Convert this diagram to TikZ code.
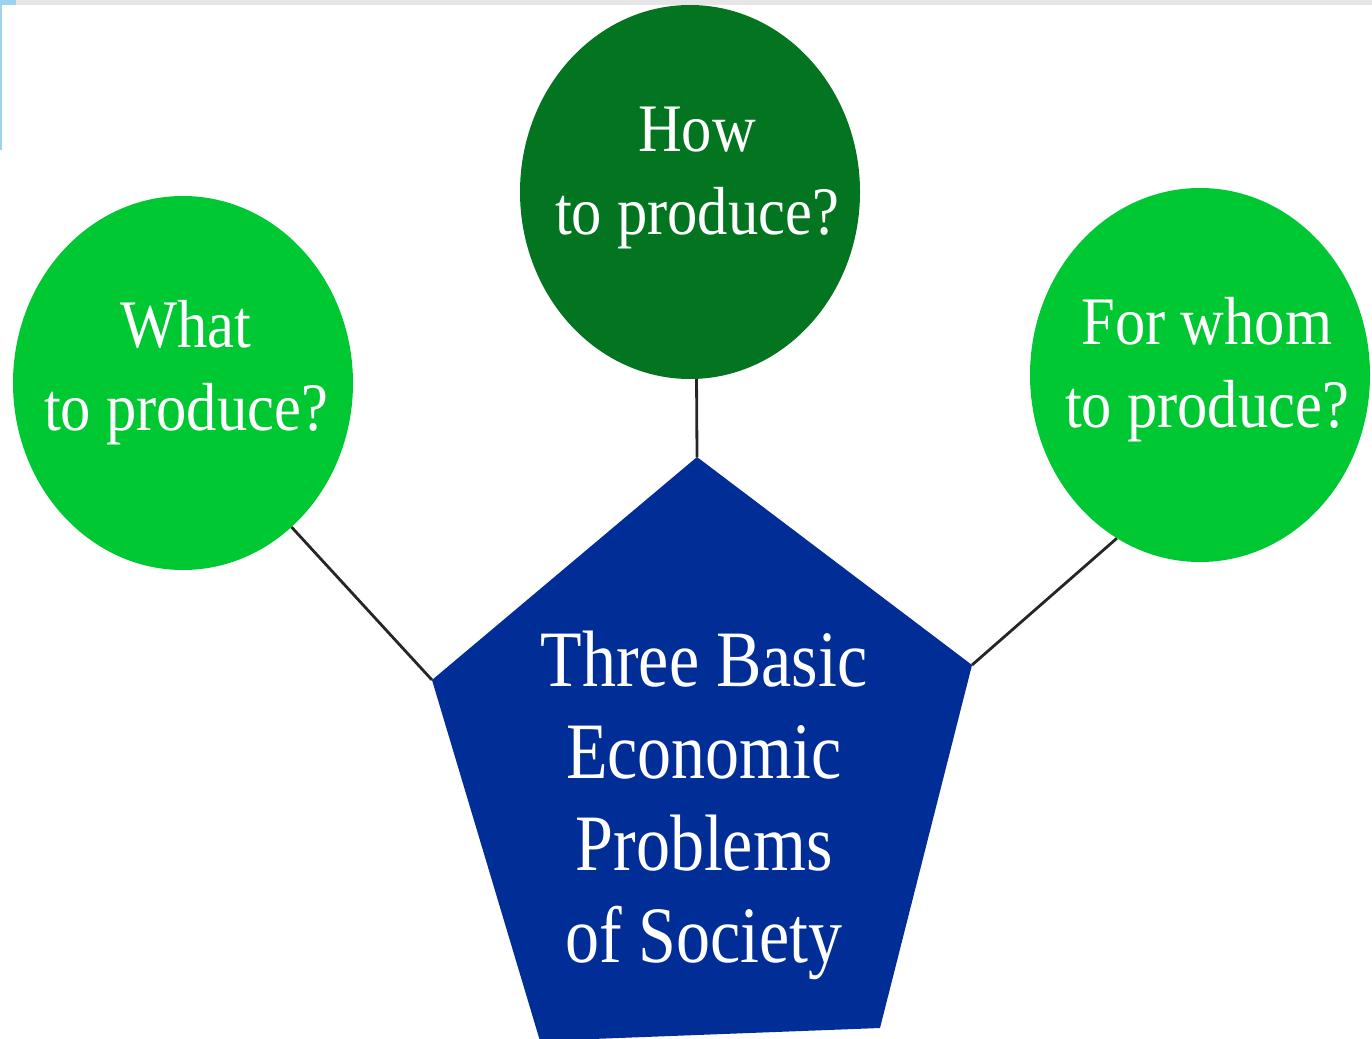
\documentclass[tikz,border=0pt]{standalone}
\usepackage{fontspec}
\setmainfont{Liberation Serif}
\newfontfamily\circfont[FakeStretch=0.89]{Liberation Serif}
\newfontfamily\pentfont[FakeStretch=0.85]{Liberation Serif}
\usetikzlibrary{shapes.geometric}
\definecolor{brightgreen}{RGB}{0,200,50}
\definecolor{darkgreen}{RGB}{3,117,32}
\definecolor{pentblue}{RGB}{0,45,150}
\definecolor{topgray}{RGB}{230,230,232}
\definecolor{edgeblue}{RGB}{156,211,239}
\tikzset{
  bubble/.style={ellipse, minimum width=340pt, minimum height=374pt, inner sep=0pt, draw=none},
  bubbletext/.style={text=white, align=center, font=\circfont\fontsize{68}{83}\selectfont, inner sep=0pt},
  penttext/.style={text=white, align=center, font=\pentfont\fontsize{80}{92}\selectfont, inner sep=0pt},
  link/.style={draw=black!85, line width=2.8pt}
}
\begin{document}
\begin{tikzpicture}[x=1pt,y=-1pt]
\useasboundingbox (0,0) rectangle (1372,1038);
\fill[white] (0,0) rectangle (1372,1038);
\fill[topgray] (0,0) rectangle (1372,5);
\fill[edgeblue] (0,0) rectangle (2,150);
\fill[edgeblue] (0,0) rectangle (16,5);

% pentagon
\coordinate (ptop) at (697,457);
\coordinate (pright) at (972,665);
\coordinate (pbr) at (880,1028);
\coordinate (pbl) at (540,1041);
\coordinate (pleft) at (432,680);
\begin{scope}
\clip (0,0) rectangle (1372,1038);
\fill[pentblue] (ptop) -- (pright) -- (pbr) -- (pbl) -- (pleft) -- cycle;
\end{scope}

% circles
\node[bubble, fill=brightgreen] (what) at (183,383) {};
\node[bubble, fill=darkgreen] (how) at (690,192) {};
\node[bubble, fill=brightgreen] (whom) at (1200,375) {};

% connectors
\draw[link] (what.-53.6) -- (pleft);
\draw[link] (how.-88) -- (ptop);
\draw[link] (whom.-117) -- (pright);

% texts
\node[bubbletext] (whattext) at (186,373) {What\\to produce?};
\node[bubbletext] (howtext) at (697,178) {How\\to produce?};
\node[bubbletext] (whomtext) at (1207,370) {For whom\\to produce?};
\node[penttext] (penttxt) at (704,805) {Three Basic\\Economic\\Problems\\of Society};
\end{tikzpicture}
\end{document}
